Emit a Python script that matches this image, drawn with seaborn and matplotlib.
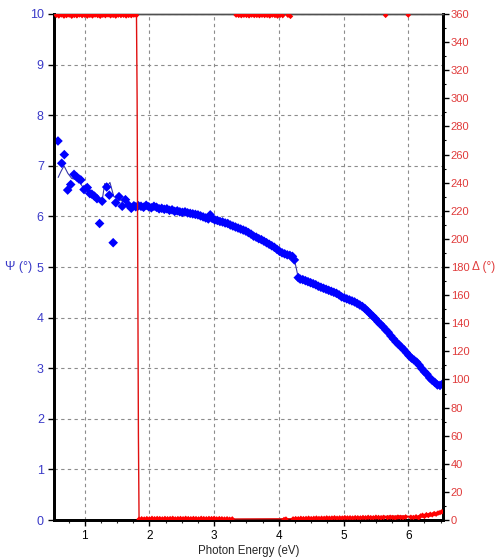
import numpy as np
import pandas as pd
import matplotlib
matplotlib.use("Agg")
import matplotlib.pyplot as plt
from matplotlib.ticker import MultipleLocator
import seaborn as sns

# Psi measured points (eV, deg)
psi_energy = [0.587, 0.645, 0.685, 0.737, 0.784, 0.835, 0.876, 0.91, 0.94, 0.99,
              1.04, 1.08, 1.11, 1.15, 1.19, 1.23, 1.27, 1.34, 1.38, 1.44,
              1.48, 1.53, 1.58, 1.63, 1.68, 1.72, 1.76, 1.79, 1.83,
              1.87, 1.91, 1.95, 1.99, 2.03, 2.07, 2.11, 2.15, 2.19, 2.23,
              2.27, 2.31, 2.35, 2.39, 2.43, 2.47, 2.51, 2.55, 2.59, 2.63,
              2.67, 2.71, 2.75, 2.79, 2.83, 2.87, 2.91, 2.94, 2.97, 3.01,
              3.05, 3.09, 3.13, 3.17, 3.21, 3.25, 3.29, 3.33, 3.37, 3.41,
              3.45, 3.49, 3.53, 3.57, 3.61, 3.65, 3.69, 3.73, 3.77, 3.81,
              3.85, 3.89, 3.93, 3.97, 4.01, 4.05, 4.09, 4.13, 4.17, 4.21, 4.24,
              4.30, 4.33, 4.37, 4.41, 4.45, 4.49, 4.53, 4.57, 4.61, 4.65,
              4.69, 4.73, 4.77, 4.81, 4.85, 4.89, 4.93, 4.97, 5.01, 5.05,
              5.09, 5.13, 5.17, 5.21, 5.25, 5.29, 5.33, 5.37, 5.41, 5.45,
              5.49, 5.53, 5.57, 5.61, 5.65, 5.69, 5.73, 5.77, 5.81, 5.85,
              5.89, 5.93, 5.97, 6.01, 6.05, 6.09, 6.13, 6.17, 6.21, 6.25,
              6.29, 6.33, 6.37, 6.41, 6.45, 6.49, 6.53]
psi_value = [7.49, 7.05, 7.22, 6.52, 6.63, 6.83, 6.78, 6.74, 6.72, 6.53,
             6.57, 6.45, 6.44, 6.40, 6.35, 5.86, 6.30, 6.58, 6.42, 5.48,
             6.27, 6.39, 6.20, 6.33, 6.22, 6.16, 6.21, 6.19, 6.21,
             6.20, 6.18, 6.22, 6.19, 6.17, 6.20, 6.18, 6.15, 6.16, 6.14,
             6.15, 6.12, 6.13, 6.10, 6.11, 6.09, 6.08, 6.09, 6.07, 6.06,
             6.05, 6.04, 6.03, 6.01, 5.99, 5.97, 5.95, 6.03, 5.96, 5.93,
             5.92, 5.90, 5.89, 5.87, 5.86, 5.83, 5.81, 5.79, 5.77, 5.75,
             5.73, 5.71, 5.68, 5.65, 5.61, 5.59, 5.56, 5.54, 5.51, 5.48,
             5.45, 5.42, 5.39, 5.35, 5.31, 5.28, 5.26, 5.24, 5.23, 5.21, 5.14,
             4.79, 4.76, 4.75, 4.73, 4.71, 4.69, 4.67, 4.65, 4.62, 4.60,
             4.58, 4.56, 4.54, 4.52, 4.50, 4.48, 4.45, 4.41, 4.39, 4.37,
             4.35, 4.33, 4.31, 4.28, 4.25, 4.22, 4.18, 4.13, 4.08, 4.03,
             3.98, 3.92, 3.87, 3.82, 3.76, 3.71, 3.64, 3.58, 3.52, 3.47,
             3.42, 3.37, 3.31, 3.25, 3.20, 3.16, 3.12, 3.06, 2.99, 2.93,
             2.88, 2.81, 2.76, 2.72, 2.67, 2.66, 2.69]

# Psi model curve
psi_fit_energy = [0.59, 0.63, 0.68, 0.74, 0.80, 0.86, 0.92, 0.98, 1.04, 1.10,
                  1.16, 1.22, 1.27, 1.31, 1.35, 1.39, 1.45, 1.52, 1.58, 1.65,
                  1.73, 1.80, 2.0, 2.2, 2.4, 2.6, 2.8, 3.0, 3.2, 3.4,
                  3.6, 3.8, 4.0, 4.15, 4.24, 4.30, 4.5, 4.7, 4.9, 5.05,
                  5.12, 5.2, 5.3, 5.5, 5.7, 5.85, 6.0, 6.2, 6.35, 6.53]
psi_fit_value = [6.77, 6.88, 7.00, 6.85, 6.75, 6.73, 6.68, 6.56, 6.50, 6.44,
                 6.39, 6.33, 6.32, 6.65, 6.60, 6.67, 6.39, 6.35, 6.30, 6.27,
                 6.17, 6.20, 6.19, 6.15, 6.11, 6.07, 6.01, 5.94, 5.87, 5.76,
                 5.63, 5.49, 5.33, 5.24, 5.15, 4.79, 4.69, 4.57, 4.45, 4.36,
                 4.28, 4.30, 4.21, 4.00, 3.72, 3.50, 3.28, 3.02, 2.80, 2.66]

# Delta measured points (eV, deg)
delta_energy = [0.56, 0.60, 0.64, 0.68, 0.72, 0.76, 0.80, 0.84, 0.88, 0.92,
                0.96, 1.00, 1.04, 1.08, 1.12, 1.16, 1.20, 1.24, 1.28, 1.32,
                1.36, 1.40, 1.44, 1.48, 1.52, 1.56, 1.60, 1.64, 1.68, 1.72,
                1.76, 1.80,
                1.84, 1.88, 1.92, 1.96, 2.00, 2.04, 2.08, 2.12, 2.16, 2.20,
                2.24, 2.28, 2.32, 2.36, 2.40, 2.44, 2.48, 2.52, 2.56, 2.60,
                2.64, 2.68, 2.72, 2.76, 2.80, 2.84, 2.88, 2.92, 2.96, 3.00,
                3.04, 3.08, 3.12, 3.16, 3.20, 3.24, 3.28,
                3.34, 3.38, 3.42, 3.46, 3.50, 3.54, 3.58, 3.62, 3.66, 3.70,
                3.74, 3.78, 3.82, 3.86, 3.90, 3.94, 3.98, 4.02, 4.06, 4.14, 4.18,
                4.08, 4.11, 4.22, 4.26, 4.30, 4.34, 4.38, 4.42, 4.46, 4.50,
                4.54, 4.58, 4.62, 4.66, 4.70, 4.74, 4.78, 4.82, 4.86, 4.90,
                4.94, 4.98, 5.02, 5.06, 5.10, 5.14, 5.18, 5.22, 5.26, 5.30,
                5.34, 5.38, 5.42, 5.46, 5.50, 5.54, 5.58, 5.62, 5.65, 5.68,
                5.72, 5.76, 5.80, 5.84, 5.88, 5.92, 5.96, 6.00, 6.04, 6.08,
                6.12, 6.16, 6.19, 6.22, 6.25, 6.28, 6.31, 6.34, 6.37, 6.40,
                6.43, 6.46, 6.49, 6.52]
delta_value = [359.0, 358.6, 359.3, 358.5, 358.9, 359.2, 358.4, 359.0, 358.7, 359.3,
               358.8, 359.1, 358.5, 359.0, 358.6, 359.2, 358.9, 358.4, 359.1, 358.8,
               359.3, 358.7, 359.0, 358.5, 359.2, 358.9, 359.1, 358.6, 359.0, 358.8,
               359.2, 359.0,
               0.6, 0.9, 0.7, 1.0, 0.8, 1.2, 0.9, 1.1, 1.0, 0.8,
               1.1, 0.9, 1.0, 1.2, 0.8, 1.0, 1.1, 0.9, 1.2, 1.0,
               0.9, 1.1, 1.0, 0.8, 1.2, 1.0, 0.9, 1.1, 1.0, 1.2,
               0.8, 1.0, 0.9, 0.7, 0.9, 0.6, 0.8,
               359.2, 359.0, 358.8, 359.1, 359.0, 358.7, 359.2, 358.9, 359.0, 358.8,
               359.1, 358.9, 359.0, 358.6, 359.2, 358.9, 358.5, 359.0, 358.8, 359.1, 358.3,
               0.4, 0.7, 0.8, 1.0, 0.9, 1.2, 1.0, 1.1, 1.3, 1.0,
               1.2, 1.4, 1.1, 1.3, 1.2, 1.5, 1.3, 1.4, 1.6, 1.3,
               1.5, 1.4, 1.7, 1.5, 1.6, 1.4, 1.7, 1.6, 1.5, 1.8,
               1.6, 1.9, 1.7, 1.6, 2.0, 1.8, 1.6, 1.9, 359.0, 1.7,
               2.0, 1.8, 1.5, 2.1, 1.9, 1.7, 2.2, 359.2, 2.0, 1.8,
               2.3, 1.6, 2.9, 3.4, 2.6, 3.8, 3.2, 4.1, 3.7, 4.6,
               4.2, 5.0, 5.3, 5.9]

# Delta model curve
delta_fit_energy = [0.56, 1.00, 1.50, 1.80, 1.81, 1.83, 1.84, 2.5, 3.5, 4.5,
                    5.3, 5.6, 5.9, 6.1, 6.3, 6.53]
delta_fit_value = [359.8, 359.8, 359.8, 359.8, 300.0, 60.0, 0.5, 0.6, 0.8, 1.0,
                   1.5, 2.6, 2.9, 2.4, 3.5, 5.2]

psi_df = pd.DataFrame({"energy": psi_energy, "psi": psi_value})
psi_fit_df = pd.DataFrame({"energy": psi_fit_energy, "psi": psi_fit_value})
delta_df = pd.DataFrame({"energy": delta_energy, "delta": delta_value})
delta_fit_df = pd.DataFrame({"energy": delta_fit_energy, "delta": delta_fit_value})

sns.set_style("ticks")
plt.rcParams["font.family"] = ["Liberation Sans", "DejaVu Sans"]

fig = plt.figure(figsize=(4.98, 5.58), dpi=100)
ax = fig.add_axes([0.109, 0.068, 0.781, 0.907])
ax2 = ax.twinx()

blue_lab = "#3a3ac8"
red_lab = "#e03a3a"

sns.lineplot(data=psi_fit_df, x="energy", y="psi", ax=ax, color="#3838a8",
             linewidth=0.8, sort=False, zorder=3)
sns.scatterplot(data=psi_df, x="energy", y="psi", ax=ax, color="#0000ff",
                marker="D", s=24, edgecolor="none", zorder=4)

sns.lineplot(data=delta_fit_df, x="energy", y="delta", ax=ax2, color="#e01010",
             linewidth=1.0, sort=False, zorder=3)
sns.scatterplot(data=delta_df, x="energy", y="delta", ax=ax2, color="#ff0000",
                marker="D", s=8, edgecolor="none", zorder=4)

ax.set_xlim(0.53, 6.54)
ax.set_ylim(0, 10)
ax2.set_ylim(0, 360)

ax.xaxis.set_major_locator(MultipleLocator(1))
ax.xaxis.set_minor_locator(MultipleLocator(0.25))
ax.yaxis.set_major_locator(MultipleLocator(1))
ax2.yaxis.set_major_locator(MultipleLocator(20))
ax2.yaxis.set_minor_locator(MultipleLocator(10))

ax.grid(True, which="major", color="#8c8c8c", linestyle=(0, (3, 3)), linewidth=0.8)
ax.set_axisbelow(True)

ax.tick_params(axis="x", which="major", length=4, width=1, labelsize=8.5, colors="black")
ax.tick_params(axis="x", which="minor", length=2, width=0.8)
ax.tick_params(axis="y", which="major", length=4, width=1, labelsize=9,
               labelcolor=blue_lab, color="black")
ax2.tick_params(axis="y", which="major", length=4, width=1, labelsize=8,
                labelcolor=red_lab, color="black", pad=1.5)
ax2.tick_params(axis="y", which="minor", length=2, width=0.8, color="black")

for a in (ax, ax2):
    for side in ("left", "right", "bottom"):
        a.spines[side].set_color("black")
        a.spines[side].set_linewidth(2)
    a.spines["top"].set_color("#505050")
    a.spines["top"].set_linewidth(1)

ax.set_xlabel("Photon Energy (eV)", fontsize=8.3, labelpad=2)
ax.set_ylabel("")
ax2.set_ylabel("")
ax.text(-0.057, 0.5, "Ψ (°)", transform=ax.transAxes, fontsize=9, color=blue_lab,
        ha="right", va="center")
ax2.text(1.074, 0.5, "Δ (°)", transform=ax2.transAxes, fontsize=8.5, color=red_lab,
         ha="left", va="center")

fig.savefig("out.png", dpi=100)
